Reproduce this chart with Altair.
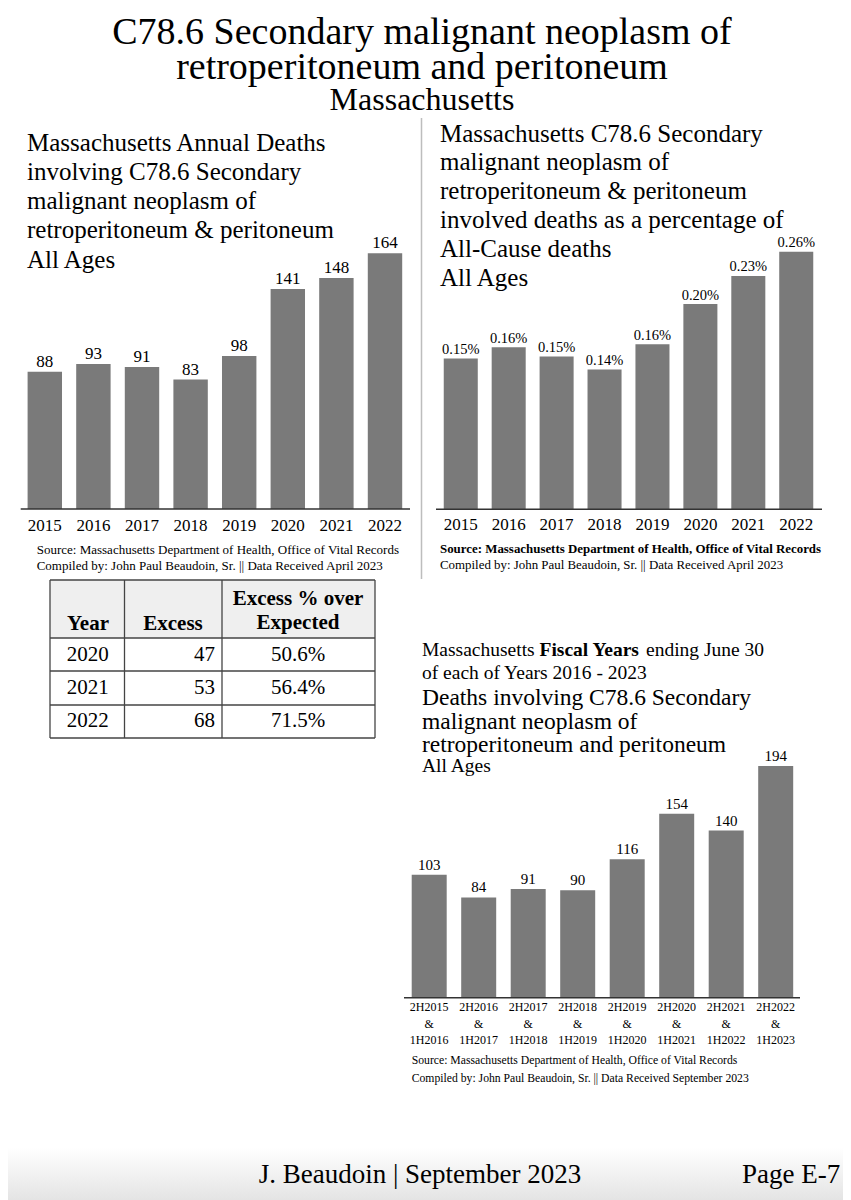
import altair as alt
import pandas as pd

# ---------------- data ----------------
annual_years = ["2015", "2016", "2017", "2018", "2019", "2020", "2021", "2022"]
annual_deaths = [88, 93, 91, 83, 98, 141, 148, 164]
annual_labels = ["88", "93", "91", "83", "98", "141", "148", "164"]

pct_years = ["2015", "2016", "2017", "2018", "2019", "2020", "2021", "2022"]
pct_values = [0.150, 0.161, 0.152, 0.139, 0.164, 0.204, 0.232, 0.256]
pct_labels = ["0.15%", "0.16%", "0.15%", "0.14%", "0.16%", "0.20%", "0.23%", "0.26%"]

fiscal_periods = ["2H2015\n&\n1H2016", "2H2016\n&\n1H2017", "2H2017\n&\n1H2018",
                  "2H2018\n&\n1H2019", "2H2019\n&\n1H2020", "2H2020\n&\n1H2021",
                  "2H2021\n&\n1H2022", "2H2022\n&\n1H2023"]
fiscal_deaths = [103, 84, 91, 90, 116, 154, 140, 194]
fiscal_labels = ["103", "84", "91", "90", "116", "154", "140", "194"]

table_years = ["2020", "2021", "2022"]
table_excess = [47, 53, 68]
table_pct = ["50.6%", "56.4%", "71.5%"]

FONT = "Liberation Serif"
BAR = "#7a7a7a"
AXIS = "#333333"

base = alt.Chart(pd.DataFrame({"k": [0]}))


def label(text, x, y, size, align="left", bold=False, lh=None, baseline="alphabetic"):
    kw = dict(text=text, font=FONT, fontSize=size, align=align, baseline=baseline,
              color="black")
    if bold:
        kw["fontWeight"] = "bold"
    if lh:
        kw["lineHeight"] = lh
    return base.mark_text(**kw).encode(x=alt.value(x), y=alt.value(y))


def line(x1, y1, x2, y2, color=AXIS, w=1.5):
    return base.mark_rule(color=color, strokeWidth=w).encode(
        x=alt.value(x1), x2=alt.value(x2), y=alt.value(y1), y2=alt.value(y2))


def bar_panel(cats, vals, labs, xrange, pad, ydomain, yrange, lab_size, lab_dy,
              xlab_y, xlab_size, xlab_lh=None):
    df = pd.DataFrame({"cat": cats, "val": vals, "lab": labs})
    x = alt.X("cat:N", sort=cats, axis=None,
              scale=alt.Scale(range=xrange, paddingInner=pad, paddingOuter=pad / 2))
    y = alt.Y("val:Q", axis=None,
              scale=alt.Scale(domain=ydomain, range=yrange, nice=False, zero=True))
    c = alt.Chart(df)
    bars = c.mark_bar(color=BAR).encode(x=x, y=y)
    vt = c.mark_text(font=FONT, fontSize=lab_size, baseline="alphabetic", dy=lab_dy,
                     color="black").encode(x=x, y=y, text="lab:N")
    kw = dict(font=FONT, fontSize=xlab_size, baseline="middle", color="black", lineBreak="\n")
    if xlab_lh:
        kw["lineHeight"] = xlab_lh
    xl = c.mark_text(**kw).encode(x=x, y=alt.value(xlab_y), text="cat:N")
    return alt.layer(bars, vt, xl)


layers = []

# page header
layers.append(label("C78.6 Secondary malignant neoplasm of", 414, 35.5, 38, align="center"))
layers.append(label("retroperitoneum and peritoneum", 414, 70.5, 38, align="center"))
layers.append(label("Massachusetts", 414, 101.5, 32, align="center"))

# ---------- left panel ----------
layers.append(label(["Massachusetts Annual Deaths", "involving C78.6 Secondary",
                     "malignant neoplasm of", "retroperitoneum & peritoneum", "All Ages"],
                    19, 142.5, 25, lh=29.3))
layers.append(bar_panel(annual_years, annual_deaths, annual_labels, [12.5, 401.3], 0.292,
                        [0, 200], [501, 189], 17, -5, 518, 17))
layers.append(line(12.7, 501, 402, 501))
layers.append(label(["Source:  Massachusetts Department of Health, Office of Vital Records",
                     "Compiled by:  John Paul Beaudoin, Sr. || Data Received April 2023"],
                    28.7, 546, 13.0, lh=15.7))

# divider
layers.append(line(413.5, 110, 413.5, 571, color="#bdbdbd", w=1.5))

# ---------- right panel ----------
layers.append(label(["Massachusetts C78.6 Secondary", "malignant neoplasm of",
                     "retroperitoneum & peritoneum", "involved deaths as a percentage of",
                     "All-Cause deaths", "All Ages"],
                    432, 133.5, 25, lh=28.8))
layers.append(bar_panel(pct_years, pct_values, pct_labels, [428.8, 812.2], 0.29,
                        [0, 0.3], [501.3, 199.5], 14.5, -4.5, 517, 17))
layers.append(line(428, 501.3, 814, 501.3))
layers.append(label("Source:  Massachusetts Department of Health, Office of Vital Records",
                    432, 545, 12.9, bold=True))
layers.append(label("Compiled by:  John Paul Beaudoin, Sr. || Data Received April 2023",
                    432, 561, 12.9))

# ---------- table ----------
layers.append(base.mark_rect(color="#efefef").encode(
    x=alt.value(42), x2=alt.value(367), y=alt.value(572), y2=alt.value(630)))
tdf = pd.DataFrame({"year": table_years, "excess": table_excess, "pct": table_pct})
ty = alt.Y("year:N", sort=table_years, axis=None,
           scale=alt.Scale(range=[630, 730], paddingInner=0, paddingOuter=0))
tc = alt.Chart(tdf)
layers.append(alt.layer(
    tc.mark_text(font=FONT, fontSize=21, align="left", baseline="middle", color="black")
      .encode(x=alt.value(58.7), y=ty, text="year:N"),
    tc.mark_text(font=FONT, fontSize=21, align="right", baseline="middle", color="black")
      .encode(x=alt.value(207), y=ty, text="excess:Q"),
    tc.mark_text(font=FONT, fontSize=21, align="center", baseline="middle", color="black")
      .encode(x=alt.value(290), y=ty, text="pct:N"),
))
layers.append(label("Year", 80, 621.5, 21, align="center", bold=True))
layers.append(label("Excess", 165, 621.5, 21, align="center", bold=True))
layers.append(label(["Excess % over", "Expected"], 290, 596.5, 21, align="center", bold=True, lh=24))
for (x1, y1, x2, y2) in [(42, 572, 367, 572), (42, 630, 367, 630), (42, 663, 367, 663),
                         (42, 697, 367, 697), (42, 730, 367, 730),
                         (42, 572, 42, 730), (116.5, 572, 116.5, 730),
                         (214, 572, 214, 730), (367, 572, 367, 730)]:
    layers.append(line(x1, y1, x2, y2, color="#444444", w=1.3))

# ---------- bottom-right panel ----------
layers.append(label("Massachusetts", 414, 648, 19.5))
layers.append(label("Fiscal Years", 531.5, 648, 19.5, bold=True))
layers.append(label("ending June 30", 638, 648, 19.5))
layers.append(label("of each of Years 2016 - 2023", 414, 671, 19.5))
layers.append(label(["Deaths involving C78.6 Secondary", "malignant neoplasm of",
                     "retroperitoneum and peritoneum"], 414, 697, 23.5, lh=23.5))
layers.append(label("All Ages", 414, 764, 19.5))
layers.append(bar_panel(fiscal_periods, fiscal_deaths, fiscal_labels, [396.45, 792.45], 0.293,
                        [0, 200], [989.7, 750.9], 15, -5, 999, 12, xlab_lh=16.5))
layers.append(line(396, 989.7, 792, 989.7))
layers.append(label(["Source:  Massachusetts Department of Health, Office of Vital Records",
                     "Compiled by:  John Paul Beaudoin, Sr. || Data Received September 2023"],
                    403.7, 1056, 11.7, lh=17.5))

# ---------- footer ----------
layers.append(base.mark_rect(color=alt.LinearGradient(
    gradient="linear", x1=0, x2=0, y1=0, y2=1,
    stops=[alt.GradientStop(color="#ffffff", offset=0),
           alt.GradientStop(color="#e4e4e4", offset=1)])).encode(
    x=alt.value(-8), x2=alt.value(843), y=alt.value(1140), y2=alt.value(1192)))
layers.append(label("J. Beaudoin  |  September 2023", 412, 1175, 27, align="center"))
layers.append(label("Page E-7", 734, 1175, 27))

chart = alt.layer(*layers).resolve_scale(x="independent", y="independent").properties(
    width=835, height=1192, padding=0,
    autosize=alt.AutoSizeParams(type="none"),
).configure_view(stroke=None)

chart.save("out.html", embed_options={"renderer": "svg", "actions": False})
